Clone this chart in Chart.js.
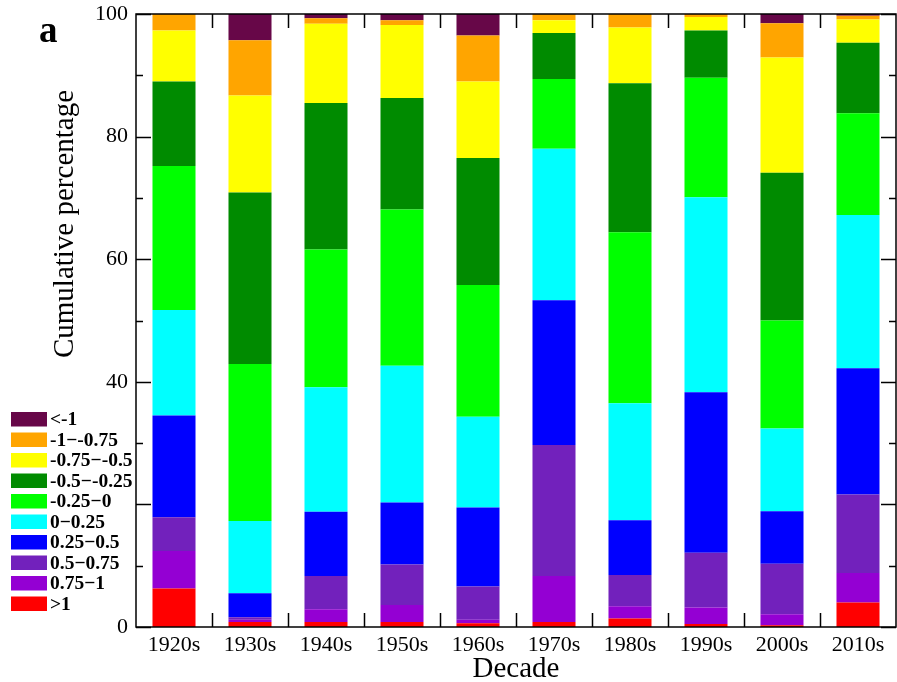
<!DOCTYPE html>
<html>
<head>
<meta charset="utf-8">
<script src="https://cdn.jsdelivr.net/npm/chart.js@4.4.1/dist/chart.umd.min.js"></script>
<style>
  html, body { margin: 0; padding: 0; background: #fff; }
  #wrap { width: 897px; height: 682px; }
</style>
</head>
<body>
<div id="wrap"><canvas id="chart" width="897" height="682"></canvas></div>
<script>
const decades = ["1920s", "1930s", "1940s", "1950s", "1960s", "1970s", "1980s", "1990s", "2000s", "2010s"];
const yTicks = [0, 20, 40, 60, 80, 100];

// percentage of each class per decade, stacked bottom (>1) to top (<-1)
const shareAbove1     = [6.3, 0.8, 0.8, 0.8, 0.6, 0.8, 1.4, 0.5, 0.3, 4.0];
const share075to1     = [6.1, 0.4, 2.1, 2.8, 0.6, 7.5, 2.0, 2.7, 1.8, 4.8];
const share05to075    = [5.5, 0.4, 5.4, 6.6, 5.4, 21.4, 5.1, 8.9, 8.2, 12.8];
const share025to05    = [16.6, 3.9, 10.5, 10.1, 12.9, 23.6, 8.9, 26.2, 8.6, 20.6];
const share0to025     = [17.2, 11.8, 20.3, 22.3, 14.8, 24.7, 19.1, 31.8, 13.5, 25.0];
const shareM025to0    = [23.5, 25.6, 22.5, 25.5, 21.5, 11.4, 27.9, 19.5, 17.6, 16.6];
const shareM05toM025  = [13.8, 28.0, 23.9, 18.2, 20.7, 7.5, 24.3, 7.7, 24.1, 11.5];
const shareM075toM05  = [8.3, 15.8, 12.9, 11.9, 12.5, 2.1, 9.1, 2.2, 18.8, 3.8];
const shareM1toM075   = [2.7, 9.0, 0.9, 0.8, 7.5, 1.0, 2.2, 0.5, 5.6, 0.6];
const shareBelowM1    = [0, 4.3, 0.7, 1.0, 3.5, 0, 0, 0, 1.5, 0.3];

const classLabels = [">1", "0.75\u22121", "0.5\u22120.75", "0.25\u22120.5", "0\u22120.25",
  "-0.25\u22120", "-0.5\u2212-0.25", "-0.75\u2212-0.5", "-1\u2212-0.75", "<-1"];
const classColors = ["#ff0000", "#9400d3", "#7221bc", "#0000ff", "#00ffff",
  "#00ff00", "#008b00", "#ffff00", "#ffa500", "#670748"];
const classValues = [shareAbove1, share075to1, share05to075, share025to05, share0to025,
  shareM025to0, shareM05toM025, shareM075toM05, shareM1toM075, shareBelowM1];

const SERIF = "'Liberation Serif', 'Times New Roman', serif";

// frame, inward ticks, panel letter, y title and the legend box
const decorations = {
  id: "decorations",
  afterDraw(chart) {
    const ctx = chart.ctx;
    const { left, right, top, bottom } = chart.chartArea;
    const xs = chart.scales.x, ys = chart.scales.y;
    ctx.save();
    ctx.strokeStyle = "#000";
    ctx.lineWidth = 1.5;
    ctx.strokeRect(left, top, right - left, bottom - top);

    ctx.beginPath();
    for (let v = 0; v <= 100; v += 10) {
      const y = Math.round(ys.getPixelForValue(v)) + 0.5;
      const len = v % 20 === 0 ? 15 : 7;
      ctx.moveTo(left, y); ctx.lineTo(left + len, y);
      ctx.moveTo(right, y); ctx.lineTo(right - len, y);
    }
    const catW = (xs.right - xs.left) / decades.length;
    for (let i = 1; i < decades.length; i++) {
      const x = Math.round(xs.getPixelForValue(i) - catW / 2) + 0.5;
      ctx.moveTo(x, bottom); ctx.lineTo(x, bottom - 14);
      ctx.moveTo(x, top); ctx.lineTo(x, top + 14);
    }
    ctx.stroke();

    ctx.fillStyle = "#000";
    ctx.font = "bold 37px " + SERIF;
    ctx.textAlign = "left";
    ctx.textBaseline = "alphabetic";
    ctx.fillText("a", 39, 42);

    ctx.save();
    ctx.translate(73, 224);
    ctx.rotate(-Math.PI / 2);
    ctx.font = "29px " + SERIF;
    ctx.textAlign = "center";
    ctx.fillText("Cumulative percentage", 0, 0);
    ctx.restore();

    // legend on a white box, top entry is the last stacked dataset
    const sets = chart.data.datasets.slice().reverse();
    ctx.fillStyle = "#fff";
    ctx.fillRect(6, 407, left - 8, 210);
    ctx.font = "bold 19.5px " + SERIF;
    ctx.textBaseline = "middle";
    sets.forEach((ds, i) => {
      const y0 = 412 + i * 20.5;
      ctx.fillStyle = ds.backgroundColor;
      ctx.fillRect(11, y0, 36, 14.5);
      ctx.fillStyle = "#000";
      ctx.fillText(ds.label, 50, y0 + 8);
    });
    ctx.restore();
  }
};

new Chart(document.getElementById("chart"), {
  type: "bar",
  data: {
    labels: decades,
    datasets: classValues.map((vals, i) => ({
      label: classLabels[i],
      data: vals,
      backgroundColor: classColors[i],
      borderWidth: 0,
      barPercentage: 0.566,
      categoryPercentage: 1.0
    }))
  },
  options: {
    responsive: false,
    animation: false,
    devicePixelRatio: 1,
    layout: { padding: { left: 0, right: 1, top: 14, bottom: 0 } },
    plugins: { legend: { display: false }, tooltip: { enabled: false } },
    scales: {
      x: {
        stacked: true,
        grid: { display: false, drawTicks: false },
        border: { display: false },
        ticks: { color: "#000", font: { family: SERIF, size: 22 }, padding: 5 },
        title: { display: true, text: "Decade", color: "#000",
                 font: { family: SERIF, size: 29, lineHeight: 1 }, padding: { top: 0, bottom: -2 } },
        afterFit(scale) { scale.height = 55; }
      },
      y: {
        stacked: true,
        min: 0,
        max: 100,
        grid: { display: false, drawTicks: false },
        border: { display: false },
        afterBuildTicks(scale) { scale.ticks = yTicks.map(v => ({ value: v })); },
        ticks: { color: "#000", font: { family: SERIF, size: 22 }, padding: 8 },
        afterFit(scale) {
          scale.width = 136;
          scale.paddingTop = 0;
          scale.paddingBottom = 0;
        }
      }
    }
  },
  plugins: [decorations]
});
</script>
</body>
</html>
